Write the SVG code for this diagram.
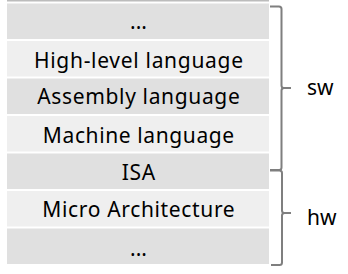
<svg xmlns="http://www.w3.org/2000/svg" width="348" height="274" viewBox="0 0 348 274">
<style>
.dark{fill:#e0e0e0}
.light{fill:#efefef}
.t{font-family:"Noto Sans","Open Sans",sans-serif;font-size:21px;fill:#000;text-anchor:middle}
.lbl{font-family:"Noto Sans","Open Sans",sans-serif;font-size:21px;fill:#000}
.brace{fill:none;stroke:#7f7f7f;stroke-width:2;stroke-linejoin:round}
</style>
<rect x="0" y="0" width="348" height="274" fill="#fff"/>
<rect x="7" y="-1" width="262" height="2.5" fill="#bcbcbc"/>
<g id="row1"><rect class="dark" x="7" y="3.5" width="262" height="35.5"/><text class="t" x="138.5" y="29">...</text></g>
<g id="row2"><rect class="light" x="7" y="41" width="262" height="35.5"/><text class="t" x="138.5" y="68.3" textLength="209" lengthAdjust="spacing">High-level language</text></g>
<g id="row3"><rect class="dark" x="7" y="78.5" width="262" height="35.5"/><text class="t" x="138.5" y="104.3" textLength="202.6" lengthAdjust="spacing">Assembly language</text></g>
<g id="row4"><rect class="light" x="7" y="116" width="262" height="35.5"/><text class="t" x="138.5" y="143.3" textLength="191.3" lengthAdjust="spacing">Machine language</text></g>
<g id="row5"><rect class="dark" x="7" y="153.5" width="262" height="35.5"/><text class="t" x="138.5" y="179.7" textLength="33.3" lengthAdjust="spacing">ISA</text></g>
<g id="row6"><rect class="light" x="7" y="191" width="262" height="35.5"/><text class="t" x="138.5" y="217.3" textLength="192.3" lengthAdjust="spacing">Micro Architecture</text></g>
<g id="row7"><rect class="dark" x="7" y="228.5" width="262" height="35.5"/><text class="t" x="138.5" y="255.7">...</text></g>
<g id="connectors">
<path class="brace" d="M270,6.5 H279 Q281.5,6.5 281.5,9 V85.5 Q281.5,88 284,88 H291 M284,88 Q281.5,88 281.5,90.5 V167.5 Q281.5,170 279,170 H270"/>
<path class="brace" d="M270,170.5 H279.5 Q282,170.5 282,173 V210.5 Q282,213 284.5,213 H291 M284.5,213 Q282,213 282,215.5 V262.5 Q282,265 279.5,265 H271"/>
</g>
<g id="sw"><text class="lbl" x="307" y="95">sw</text></g>
<g id="hw"><text class="lbl" x="307" y="225">hw</text></g>
</svg>
